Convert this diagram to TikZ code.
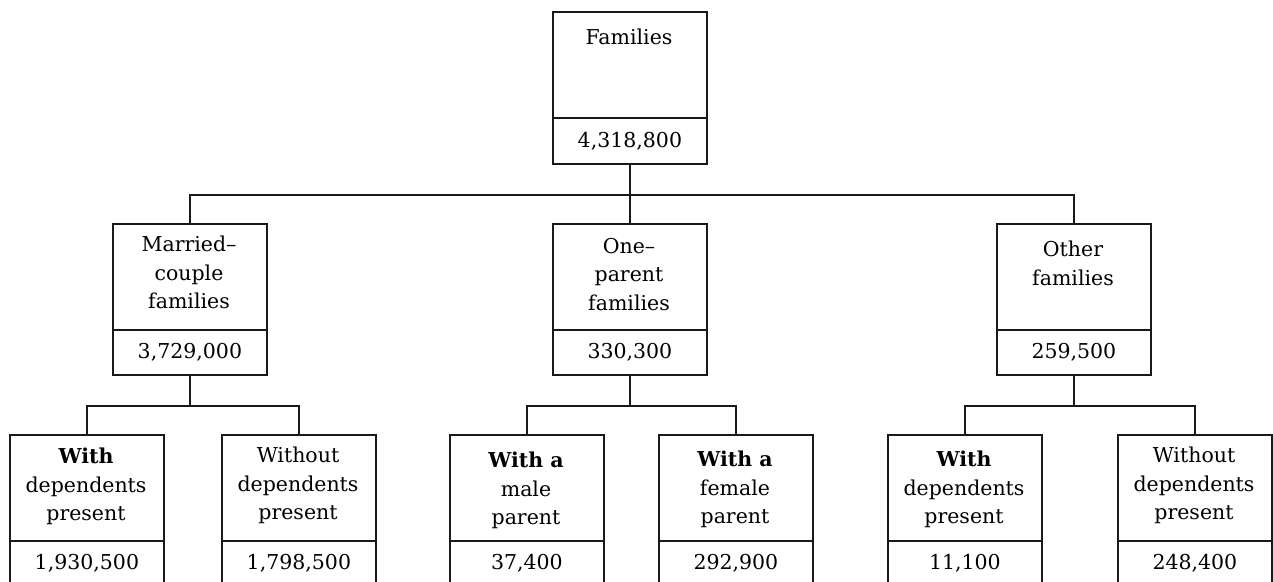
\documentclass[tikz,border=0pt]{standalone}
\usepackage{fontspec}
\setmainfont{DejaVu Serif}
\begin{document}
\begin{tikzpicture}[x=1pt,y=-1pt,
  part/.style={draw=black!90, line width=1.8pt, minimum width=154pt, anchor=north west, inner sep=0pt},
  toppart/.style={part, minimum height=106pt},
  numpart/.style={part, minimum height=45pt, font=\fontsize{20.5}{24}\selectfont, text=black},
  lab/.style={anchor=north, align=center, inner sep=0pt, text=black, font=\fontsize{20.5}{28.5}\selectfont},
  link/.style={draw=black!90, line width=1.8pt}]
\clip (0,0) rectangle (1273,581);
\fill[white] (0,0) rectangle (1273,581);
% level 1
\node[toppart] (famT) at (552,11) {};
\node[numpart, minimum height=46pt] (famB) at (552,117) {4,318,800};
\node[lab] (famL) at (629,29) {Families};
% level 2
\node[toppart] (mcT) at (112,223) {};
\node[numpart] (mcB) at (112,329) {3,729,000};
\node[lab] (mcL) at (189,236) {Married–\\couple\\families};
\node[toppart] (opT) at (552,223) {};
\node[numpart] (opB) at (552,329) {330,300};
\node[lab] (opL) at (629,238) {One–\\parent\\families};
\node[toppart] (ofT) at (996,223) {};
\node[numpart] (ofB) at (996,329) {259,500};
\node[lab] (ofL) at (1073,241) {Other\\families};
% level 3
\node[toppart] (aT) at (9,434) {};
\node[numpart] (aB) at (9,540) {1,930,500};
\node[lab] (aL) at (86,448) {\textbf{With}\\dependents\\present};
\node[toppart] (bT) at (221,434) {};
\node[numpart] (bB) at (221,540) {1,798,500};
\node[lab] (bL) at (298,447) {Without\\dependents\\present};
\node[toppart] (cT) at (449,434) {};
\node[numpart] (cB) at (449,540) {37,400};
\node[lab] (cL) at (526,452) {\textbf{With a}\\male\\parent};
\node[toppart] (dT) at (658,434) {};
\node[numpart] (dB) at (658,540) {292,900};
\node[lab] (dL) at (735,451) {\textbf{With a}\\female\\parent};
\node[toppart] (eT) at (887,434) {};
\node[numpart] (eB) at (887,540) {11,100};
\node[lab] (eL) at (964,451) {\textbf{With}\\dependents\\present};
\node[toppart] (fT) at (1117,434) {};
\node[numpart] (fB) at (1117,540) {248,400};
\node[lab] (fL) at (1194,447) {Without\\dependents\\present};
% connectors
\draw[link] (famB.south) -- ++(0,30) -| (mcT.north);
\draw[link] (famB.south) -- ++(0,30) -| (opT.north);
\draw[link] (famB.south) -- ++(0,30) -| (ofT.north);
\draw[link] (mcB.south) -- ++(0,30) -| (aT.north);
\draw[link] (mcB.south) -- ++(0,30) -| (bT.north);
\draw[link] (opB.south) -- ++(0,30) -| (cT.north);
\draw[link] (opB.south) -- ++(0,30) -| (dT.north);
\draw[link] (ofB.south) -- ++(0,30) -| (eT.north);
\draw[link] (ofB.south) -- ++(0,30) -| (fT.north);
\end{tikzpicture}
\end{document}
